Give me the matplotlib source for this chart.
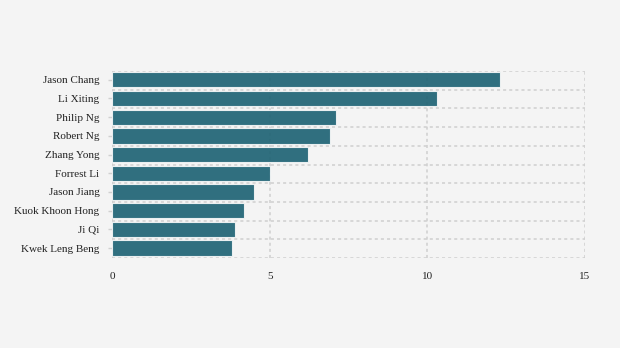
import matplotlib
matplotlib.use("Agg")
import matplotlib.pyplot as plt
import numpy as np

names = ["Jason Chang", "Li Xiting", "Philip Ng", "Robert Ng", "Zhang Yong",
         "Forrest Li", "Jason Jiang", "Kuok Khoon Hong", "Ji Qi", "Kwek Leng Beng"]
values = [12.3, 10.3, 7.1, 6.9, 6.2, 5.0, 4.5, 4.2, 3.9, 3.8]
xticks = [0, 5, 10, 15]

bg = "#f4f4f4"
fig = plt.figure(figsize=(6.2, 3.48), dpi=100, facecolor=bg)
ax = fig.add_axes([112/620, 1-258/348, (585-112)/620, (258-71)/348], facecolor=bg)

n = len(names)
y = np.arange(n)
ax.barh(y - 0.03, values, height=0.82, color="#1b6172", alpha=0.9,
        edgecolor="#f4f6f7", linewidth=0.8, zorder=3)
ax.set_ylim(n - 0.5, -0.5)
ax.set_xlim(0, 15)

gridc = "#cfcfcf"
for b in np.arange(-0.5, n, 1.0):
    ax.axhline(b, color=gridc, linestyle=(0, (2, 2)), linewidth=1.1, zorder=1)
for xv in xticks:
    ax.axvline(xv, color=gridc, linestyle=(0, (2, 2)), linewidth=1.1, zorder=1)

for s in ax.spines.values():
    s.set_visible(False)

ax.set_yticks(y - 0.03)
ax.set_yticklabels(names, family="Liberation Serif", fontsize=8, color="#222222")
ax.set_xticks(xticks)
ax.set_xticklabels([str(v) for v in xticks], family="Liberation Serif", fontsize=8, color="#222222")
ax.tick_params(axis="y", length=3, color="#d0d0d0", width=1, pad=6)
ax.tick_params(axis="x", length=0, pad=10)

fig.savefig("out.png", dpi=100, facecolor=bg)
